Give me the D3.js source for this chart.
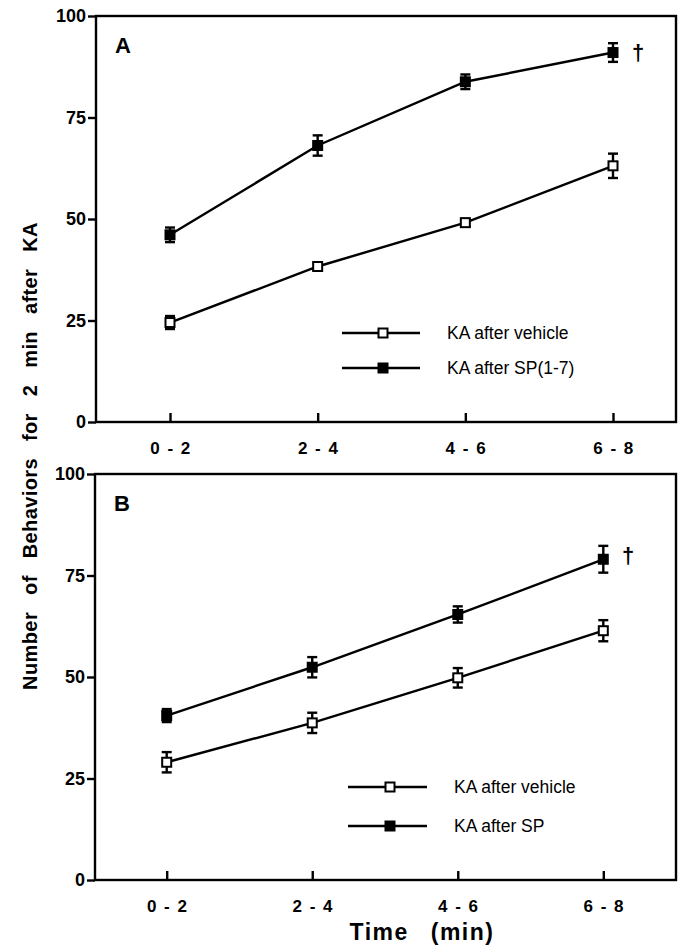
<!DOCTYPE html>
<html><head><meta charset="utf-8">
<script src="https://cdn.jsdelivr.net/npm/d3@7"></script>
<style>
body{margin:0;background:#fff;}
svg{display:block;font-family:"Liberation Sans",Arial,Helvetica,sans-serif;}
</style></head>
<body>
<svg id="chart" width="678" height="951"></svg>
<script>
const categories = ["0 - 2", "2 - 4", "4 - 6", "6 - 8"];
const yTicks = [0, 25, 50, 75, 100];

const aVehicle = [24.5, 38.3, 49.1, 63.1];
const aVehicleErr = [1.6, 0.9, 0.9, 3.0];
const aSP = [46.1, 68.1, 83.8, 91.0];
const aSPErr = [1.8, 2.5, 1.8, 2.3];

const bVehicle = [29.0, 38.7, 49.8, 61.4];
const bVehicleErr = [2.5, 2.5, 2.4, 2.6];
const bSP = [40.5, 52.4, 65.4, 79.0];
const bSPErr = [1.6, 2.5, 2.0, 3.3];

const panelLabels = ["A", "B"];
const legendA = ["KA after vehicle", "KA after SP(1-7)"];
const legendB = ["KA after vehicle", "KA after SP"];
const yTitle = "Number of Behaviors for 2 min after KA";
const xTitle = "Time (min)";

const svg = d3.select("#chart");

const panels = [
  {label: panelLabels[0], x0: 96, x1: 676, y0: 16, y1: 422, cx0: 170, cx1: 613,
   series: [{v: aVehicle, e: aVehicleErr, open: true}, {v: aSP, e: aSPErr, open: false}],
   legend: legendA, legX0: 342, legX1: 420, legM: 383, legY: [333, 368], legT: 447, dagger: [638, 60]},
  {label: panelLabels[1], x0: 95, x1: 676, y0: 474, y1: 880, cx0: 166.7, cx1: 603.3,
   series: [{v: bVehicle, e: bVehicleErr, open: true}, {v: bSP, e: bSPErr, open: false}],
   legend: legendB, legX0: 348, legX1: 427, legM: 390, legY: [787, 826], legT: 454, dagger: [628, 563]}
];

panels.forEach(p => {
  const g = svg.append("g");
  const x = d3.scalePoint().domain(categories).range([p.cx0, p.cx1]);
  const y = d3.scaleLinear().domain([0, 100]).range([p.y1, p.y0]);

  g.append("rect").attr("x", p.x0).attr("y", p.y0)
    .attr("width", p.x1 - p.x0).attr("height", p.y1 - p.y0)
    .attr("fill", "none").attr("stroke", "#000").attr("stroke-width", 2.4);

  const ya = g.append("g").attr("transform", `translate(${p.x0},0)`)
    .call(d3.axisLeft(y).tickValues(yTicks).tickSize(8).tickPadding(2).tickFormat(d3.format("d")));
  ya.select(".domain").remove();
  ya.selectAll("line").attr("stroke", "#000").attr("stroke-width", 2.4);
  ya.selectAll("text").attr("font-size", 18).attr("font-weight", "bold").attr("fill", "#000");

  const xa = g.append("g").attr("transform", `translate(0,${p.y1})`)
    .call(d3.axisBottom(x).tickSizeInner(-9).tickSizeOuter(0).tickPadding(20));
  xa.select(".domain").remove();
  xa.selectAll("line").attr("stroke", "#000").attr("stroke-width", 2.4);
  xa.selectAll("text").attr("font-size", 17).attr("font-weight", "bold").attr("fill", "#000")
    .attr("word-spacing", 2).attr("letter-spacing", 0.5);

  g.append("text").attr("x", p.x0 + 19).attr("y", p.y0 + 37)
    .attr("font-size", 22).attr("font-weight", "bold").text(p.label);

  const line = d3.line().x((d, i) => x(categories[i])).y(d => y(d));
  p.series.forEach(s => {
    g.append("path").datum(s.v).attr("d", line)
      .attr("fill", "none").attr("stroke", "#000").attr("stroke-width", 2.4);
    s.v.forEach((v, i) => {
      const cx = x(categories[i]);
      const top = y(v + s.e[i]), bot = y(v - s.e[i]);
      g.append("line").attr("x1", cx).attr("x2", cx).attr("y1", top).attr("y2", bot)
        .attr("stroke", "#000").attr("stroke-width", 2.4);
      [top, bot].forEach(yy => g.append("line").attr("x1", cx - 5).attr("x2", cx + 5)
        .attr("y1", yy).attr("y2", yy).attr("stroke", "#000").attr("stroke-width", 2.4));
      g.append("rect").attr("x", cx - 4.5).attr("y", y(v) - 4.5).attr("width", 9).attr("height", 9)
        .attr("fill", s.open ? "#fff" : "#000").attr("stroke", "#000").attr("stroke-width", 2);
    });
  });

  g.append("text").attr("x", p.dagger[0]).attr("y", p.dagger[1]).attr("text-anchor", "middle")
    .attr("font-size", 22).attr("font-weight", "bold").text("\u2020");

  p.legend.forEach((t, i) => {
    const ly = p.legY[i];
    g.append("line").attr("x1", p.legX0).attr("x2", p.legX1).attr("y1", ly).attr("y2", ly)
      .attr("stroke", "#000").attr("stroke-width", 2.4);
    g.append("rect").attr("x", p.legM - 4.5).attr("y", ly - 4.5).attr("width", 9).attr("height", 9)
      .attr("fill", i === 0 ? "#fff" : "#000").attr("stroke", "#000").attr("stroke-width", 2);
    g.append("text").attr("x", p.legT).attr("y", ly + 6).attr("font-size", 17.5).text(t);
  });
});

svg.append("text").attr("transform", "translate(37,456) rotate(-90)")
  .attr("text-anchor", "middle").attr("font-size", 20).attr("font-weight", "bold")
  .attr("word-spacing", 11).attr("letter-spacing", 0.4).text(yTitle);

svg.append("text").attr("x", 422).attr("y", 940).attr("text-anchor", "middle")
  .attr("font-size", 23).attr("font-weight", "bold").attr("letter-spacing", 1.5)
  .attr("word-spacing", 14).text(xTitle);
</script>
</body></html>
